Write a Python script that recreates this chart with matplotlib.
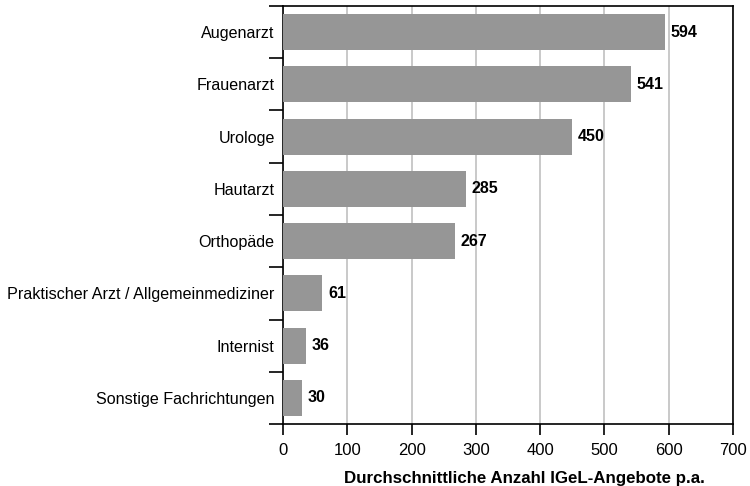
import matplotlib
matplotlib.use("Agg")
import matplotlib.pyplot as plt
import numpy as np

categories = ["Augenarzt", "Frauenarzt", "Urologe", "Hautarzt", "Orthopäde",
              "Praktischer Arzt / Allgemeinmediziner", "Internist", "Sonstige Fachrichtungen"]
values = [594, 541, 450, 285, 267, 61, 36, 30]
xticks = [0, 100, 200, 300, 400, 500, 600, 700]
xlabel = "Durchschnittliche Anzahl IGeL-Angebote p.a."

plt.rcParams['font.family'] = ['Liberation Sans', 'DejaVu Sans']

fig = plt.figure(figsize=(7.5, 4.86), dpi=100)
ax = fig.add_axes([283/750, 1 - 424/486, 450/750, 418/486])

n = len(categories)
y = np.arange(n)
ax.barh(y, values, height=0.69, color="#969696", zorder=3)
ax.set_ylim(n - 0.5, -0.5)
ax.set_xlim(0, 700)
ax.set_xticks(xticks)
ax.set_xticklabels([str(t) for t in xticks], fontsize=12)
ax.set_yticks(y)
ax.set_yticklabels(categories, fontsize=11.6)
ax.tick_params(axis='y', length=0, pad=6)
ax.set_yticks(np.arange(-0.5, n, 1), minor=True)
ax.tick_params(axis='y', which='minor', length=10, width=1.2, direction='out')
ax.tick_params(axis='x', length=8, width=1.2, direction='out', pad=6)
ax.grid(axis='x', color="#c0c0c0", linewidth=1.2, zorder=0)
for s in ax.spines.values():
    s.set_linewidth(1.2)
    s.set_color("black")

for yi, v in zip(y, values):
    ax.text(v + 9, yi, str(v), va='center', ha='left', fontsize=11.5, fontweight='bold')

ax.set_xlabel(xlabel, fontsize=12.2, fontweight='bold', labelpad=9)
ax.xaxis.label.set_x(0.536)

fig.savefig("out.png", dpi=100)
